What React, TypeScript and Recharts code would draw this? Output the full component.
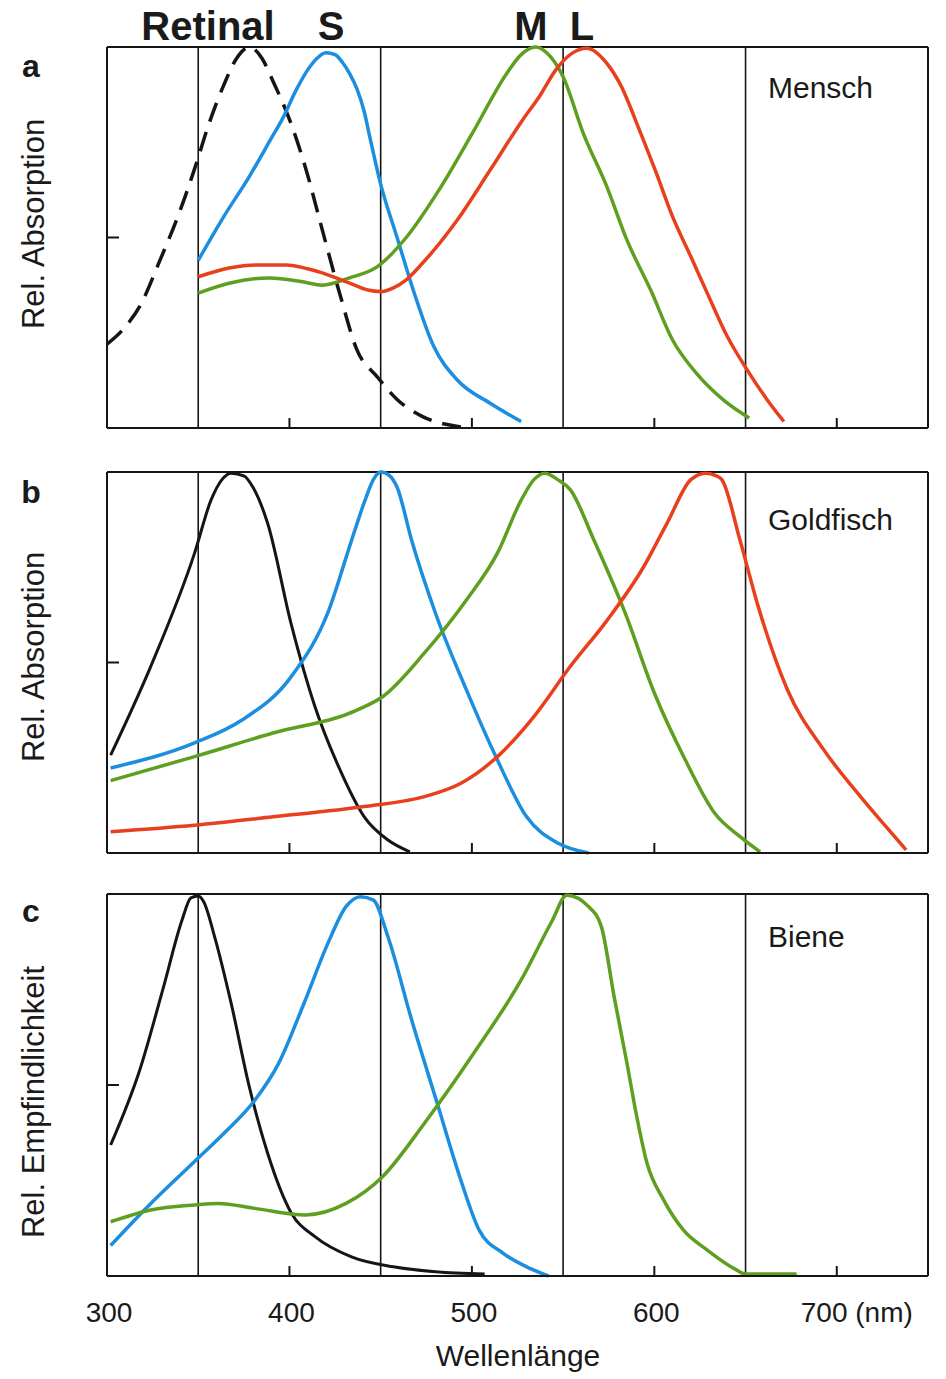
import { LineChart, Line, XAxis, YAxis, ReferenceLine } from 'recharts';

// wavelength (nm) / relative value pairs
const menschRetinal = [
  [300, 0.22], [309, 0.26], [318, 0.32], [329, 0.44], [340, 0.57], [348, 0.68], [356, 0.8],
  [364, 0.9], [371, 0.97], [378, 1.0], [385, 0.97], [391, 0.91], [400, 0.81], [409, 0.68],
  [418, 0.52], [428, 0.345], [437, 0.205], [448, 0.135], [459, 0.075], [473, 0.03], [494, 0.003],
];
const menschS = [
  [350, 0.44], [364, 0.555], [378, 0.66], [390, 0.76], [396, 0.81], [404, 0.89], [410, 0.94],
  [415, 0.97], [420, 0.985], [425, 0.98], [429, 0.96], [433, 0.93], [437, 0.89], [441, 0.83],
  [444, 0.765], [450, 0.64], [459, 0.5], [468, 0.36], [479, 0.215], [492, 0.126], [510, 0.065], [527, 0.017],
];
const menschM = [
  [350, 0.354], [367, 0.38], [389, 0.394], [407, 0.384], [418, 0.375], [433, 0.394], [448, 0.423],
  [464, 0.5], [482, 0.625], [501, 0.78], [519, 0.93], [527, 0.98], [535, 1.0], [541, 0.985],
  [550, 0.922], [561, 0.774], [574, 0.633], [585, 0.493], [598, 0.362], [610, 0.231], [623, 0.144],
  [638, 0.073], [652, 0.026],
];
const menschL = [
  [350, 0.397], [367, 0.42], [382, 0.428], [398, 0.428], [410, 0.418], [418, 0.407], [433, 0.38],
  [443, 0.362], [450, 0.358], [457, 0.368], [464, 0.389], [473, 0.433], [492, 0.546], [510, 0.677],
  [528, 0.81], [537, 0.87], [546, 0.94], [555, 0.984], [563, 0.997], [574, 0.957], [581, 0.905],
  [592, 0.78], [601, 0.67], [610, 0.555], [620, 0.45], [629, 0.354], [640, 0.24], [652, 0.144],
  [662, 0.073], [671, 0.017],
];

const fischUV = [
  [302, 0.257], [324, 0.49], [348, 0.787], [357, 0.926], [363, 0.98], [368, 0.997], [375, 0.99],
  [380, 0.96], [388, 0.866], [401, 0.6], [414, 0.384], [427, 0.226], [441, 0.095], [454, 0.034], [466, 0.003],
];
const fischS = [
  [302, 0.223], [348, 0.289], [374, 0.349], [401, 0.463], [421, 0.63], [434, 0.82], [441, 0.92],
  [446, 0.98], [450, 1.0], [455, 0.99], [459, 0.96], [467, 0.82], [480, 0.63], [497, 0.428],
  [514, 0.244], [530, 0.095], [547, 0.026], [564, 0],
];
const fischM = [
  [302, 0.19], [348, 0.253], [391, 0.315], [437, 0.375], [451, 0.41], [474, 0.525], [497, 0.664],
  [514, 0.787], [527, 0.926], [534, 0.98], [540, 0.997], [547, 0.98], [554, 0.953], [567, 0.82],
  [584, 0.63], [600, 0.42], [617, 0.244], [633, 0.105], [647, 0.043], [658, 0.003],
];
const fischL = [
  [302, 0.056], [348, 0.073], [391, 0.095], [441, 0.122], [474, 0.148], [494, 0.183], [514, 0.253],
  [534, 0.358], [554, 0.49], [574, 0.61], [594, 0.75], [607, 0.866], [620, 0.98], [628, 0.997],
  [634, 0.99], [637, 0.98], [647, 0.82], [657, 0.646], [673, 0.428], [693, 0.27], [713, 0.148],
  [727, 0.069], [738, 0.008],
];

const bieneUV = [
  [302, 0.343], [318, 0.54], [331, 0.757], [341, 0.93], [346, 0.99], [350, 0.995], [353, 0.98],
  [359, 0.888], [368, 0.715], [378, 0.495], [388, 0.322], [401, 0.165], [414, 0.103], [434, 0.05],
  [457, 0.024], [480, 0.011], [507, 0.005],
];
const bieneBlau = [
  [302, 0.08], [324, 0.19], [348, 0.3], [364, 0.373], [381, 0.46], [394, 0.556], [408, 0.714],
  [421, 0.87], [431, 0.967], [439, 0.993], [446, 0.984], [454, 0.888], [467, 0.67], [481, 0.452],
  [494, 0.25], [504, 0.12], [517, 0.06], [530, 0.024], [542, 0],
];
const bieneGruen = [
  [302, 0.142], [324, 0.173], [348, 0.186], [361, 0.19], [381, 0.177], [409, 0.16], [431, 0.19],
  [451, 0.26], [474, 0.4], [501, 0.583], [527, 0.775], [544, 0.93], [552, 0.997], [564, 0.967],
  [571, 0.914], [578, 0.73], [585, 0.557], [590, 0.426], [596, 0.295], [605, 0.2], [616, 0.12],
  [629, 0.068], [645, 0.016], [650, 0.005], [678, 0.005],
];

const xTicks = [300, 400, 500, 600, 700];
const dividers = [350, 450, 550, 650];
const yTicks = [0.5];

const BLACK = '#151515';
const BLUE = '#1c8ee0';
const GREEN = '#5f9f1f';
const RED = '#e8401c';
const FONT = '"Liberation Sans", Arial, Helvetica, sans-serif';

const pts = (arr: number[][]) => arr.map(([nm, v]) => ({ nm, v }));

type Series = { data: number[][]; color: string; dashed?: boolean; width?: number };

const panels: { top: number; showLabels: boolean; series: Series[] }[] = [
  {
    top: 43,
    showLabels: false,
    series: [
      { data: menschRetinal, color: BLACK, dashed: true, width: 3.5 },
      { data: menschS, color: BLUE },
      { data: menschM, color: GREEN },
      { data: menschL, color: RED },
    ],
  },
  {
    top: 468,
    showLabels: false,
    series: [
      { data: fischUV, color: BLACK, width: 3 },
      { data: fischS, color: BLUE },
      { data: fischM, color: GREEN },
      { data: fischL, color: RED },
    ],
  },
  {
    top: 890,
    showLabels: true,
    series: [
      { data: bieneUV, color: BLACK, width: 3 },
      { data: bieneBlau, color: BLUE },
      { data: bieneGruen, color: GREEN },
    ],
  },
];

function XTick(props: any) {
  const { x, y, payload, showLabel } = props;
  const val = payload.value;
  return (
    <g>
      {val > 300 && <line x1={x} x2={x} y1={y} y2={y - 10} stroke={BLACK} strokeWidth={2} />}
      {showLabel && (
        <text
          x={val === 700 ? x - 36 : x + 2}
          y={y + 46}
          textAnchor={val === 700 ? 'start' : 'middle'}
          fontSize={28}
          fontFamily={FONT}
          fill="#1a1a1a"
        >
          {val === 700 ? '700 (nm)' : val}
        </text>
      )}
    </g>
  );
}

function YTickLeft(props: any) {
  const { x, y } = props;
  return <line x1={x} x2={x + 12} y1={y} y2={y} stroke={BLACK} strokeWidth={2} />;
}

function YTickRight(props: any) {
  const { x, y } = props;
  return <line x1={x} x2={x - 12} y1={y} y2={y} stroke={BLACK} strokeWidth={2} />;
}

function Panel({ top, showLabels, series }: { top: number; showLabels: boolean; series: Series[] }) {
  const axisH = showLabels ? 60 : 2;
  const height = 4 + (showLabels ? 382 : 381) + axisH + 4;
  return (
    <div style={{ position: 'absolute', left: 0, top }}>
      <LineChart width={946} height={height} margin={{ top: 4, right: 16, bottom: 4, left: 105 }}>
        <XAxis
          dataKey="nm"
          type="number"
          domain={[300, 750]}
          ticks={xTicks}
          height={axisH}
          tickSize={0}
          tickMargin={0}
          tickLine={false}
          axisLine={{ stroke: BLACK, strokeWidth: 2 }}
          tick={(p: any) => <XTick {...p} showLabel={showLabels} />}
          interval={0}
        />
        <YAxis
          type="number"
          domain={[0, 1]}
          ticks={yTicks}
          width={2}
          tickSize={0}
          tickMargin={0}
          tickLine={false}
          axisLine={{ stroke: BLACK, strokeWidth: 2 }}
          tick={(p: any) => <YTickLeft {...p} />}
        />
        <YAxis
          yAxisId="r"
          orientation="right"
          type="number"
          domain={[0, 1]}
          ticks={yTicks}
          width={2}
          tickSize={0}
          tickMargin={0}
          tickLine={false}
          axisLine={{ stroke: BLACK, strokeWidth: 2 }}
          tick={(p: any) => <YTickRight {...p} />}
        />
        {dividers.map((d) => (
          <ReferenceLine key={d} x={d} stroke={BLACK} strokeWidth={1.6} />
        ))}
        <ReferenceLine y={1} stroke={BLACK} strokeWidth={2} />
        {series.map((s, i) => (
          <Line
            key={i}
            data={pts(s.data)}
            dataKey="v"
            type="monotone"
            stroke={s.color}
            strokeWidth={s.width ?? 3.5}
            strokeDasharray={s.dashed ? '20 11' : undefined}
            dot={false}
            activeDot={false}
            isAnimationActive={false}
          />
        ))}
      </LineChart>
    </div>
  );
}

const textBase = { fontFamily: FONT, fill: '#1a1a1a' };

export default function App() {
  return (
    <div style={{ position: 'absolute', left: 0, top: 0, width: 946, height: 1379, background: '#fff' }}>
      {panels.map((p, i) => (
        <Panel key={i} {...p} />
      ))}
      <svg
        width={946}
        height={1379}
        style={{ position: 'absolute', left: 0, top: 0, pointerEvents: 'none' }}
      >
        <g fontWeight="bold" fontSize={40} {...textBase} textAnchor="middle">
          <text x={208} y={40}>Retinal</text>
          <text x={331} y={40}>S</text>
          <text x={531} y={40}>M</text>
          <text x={582} y={40}>L</text>
        </g>
        <g fontWeight="bold" fontSize={32} {...textBase} textAnchor="middle">
          <text x={31} y={77}>a</text>
          <text x={31} y={503}>b</text>
          <text x={31} y={922}>c</text>
        </g>
        <g fontSize={31} {...textBase} textAnchor="middle">
          <text transform="translate(44,224) rotate(-90)">Rel. Absorption</text>
          <text transform="translate(44,657) rotate(-90)">Rel. Absorption</text>
          <text transform="translate(44,1102) rotate(-90)">Rel. Empfindlichkeit</text>
        </g>
        <g fontSize={30} {...textBase}>
          <text x={768} y={98}>Mensch</text>
          <text x={768} y={530}>Goldfisch</text>
          <text x={768} y={947}>Biene</text>
        </g>
        <text x={518} y={1366} fontSize={30} textAnchor="middle" {...textBase}>
          Wellenlänge
        </text>
      </svg>
    </div>
  );
}
